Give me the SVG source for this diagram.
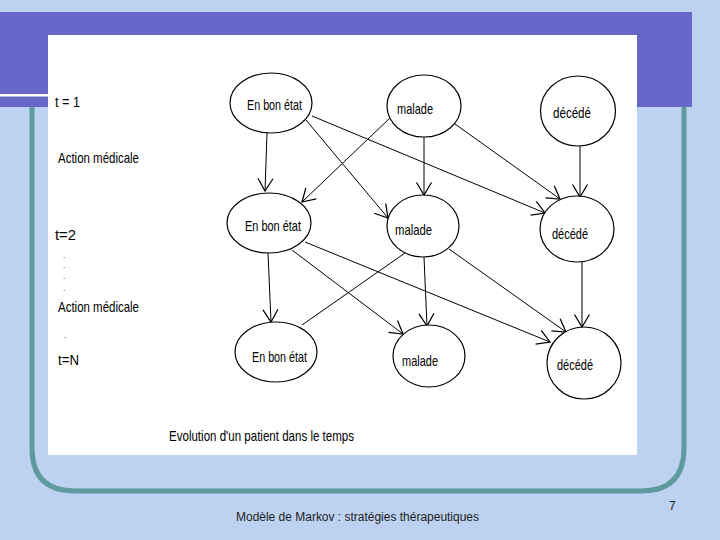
<svg xmlns="http://www.w3.org/2000/svg" width="720" height="540" viewBox="0 0 720 540">
<defs>
<marker id="ah" markerUnits="userSpaceOnUse" markerWidth="20" markerHeight="20" refX="0" refY="0" viewBox="-12 -8 14 16" orient="auto">
<path d="M-10,-6 L0,0 L-10,6" fill="none" stroke="#000" stroke-width="1"/>
</marker>
</defs>
<style>
.lbl{font-family:"Liberation Sans",Arial,sans-serif;font-size:15px;fill:#000}
.dot{font-family:"Liberation Sans",Arial,sans-serif;font-size:8px;fill:#000}
.nd ellipse{fill:#fff;stroke:#000;stroke-width:1.2}
.nd text{font-family:"Liberation Sans",Arial,sans-serif;font-size:15px;fill:#000}
#edges line{stroke:#000;stroke-width:1;fill:none}
#edges line.a{marker-end:url(#ah)}
.foot{font-family:"Liberation Sans",Arial,sans-serif;font-size:12px;fill:#222}
</style>
<rect x="0" y="0" width="720" height="540" fill="#bdd2f0"/>
<rect x="0" y="12" width="692" height="95" fill="#6767c9"/>
<rect x="0" y="94" width="48" height="2.5" fill="#ffffff"/>
<path d="M32,107 L32,448 Q32,491 75,491 L641,491 Q684,491 684,448 L684,107" fill="none" stroke="#5f9a9e" stroke-width="5"/>
<rect x="48" y="35" width="589" height="420" fill="#ffffff"/>

<text class="lbl" x="55" y="107" textLength="25" lengthAdjust="spacingAndGlyphs">t = 1</text>
<text class="lbl" x="58" y="163" textLength="81" lengthAdjust="spacingAndGlyphs">Action médicale</text>
<text class="lbl" x="55" y="240" textLength="21" lengthAdjust="spacingAndGlyphs">t=2</text>
<text class="dot" x="63" y="258">.</text>
<text class="dot" x="63" y="268">.</text>
<text class="dot" x="63" y="279">.</text>
<text class="dot" x="63" y="291">.</text>
<text class="lbl" x="58" y="312" textLength="81" lengthAdjust="spacingAndGlyphs">Action médicale</text>
<text class="dot" x="64" y="338">.</text>
<text class="lbl" x="58" y="365" textLength="21" lengthAdjust="spacingAndGlyphs">t=N</text>
<text class="lbl" x="169" y="441" textLength="185" lengthAdjust="spacingAndGlyphs">Evolution d'un patient dans le temps</text>

<g id="edges">
<line class="a" x1="267" y1="133" x2="265" y2="191"/>
<line class="a" x1="306" y1="120" x2="388" y2="218"/>
<line class="a" x1="312" y1="116" x2="545" y2="213"/>
<line class="a" x1="391" y1="117" x2="302" y2="202"/>
<line class="a" x1="424" y1="137" x2="424" y2="195"/>
<line class="a" x1="455" y1="124" x2="560" y2="199"/>
<line class="a" x1="580" y1="146" x2="580" y2="197"/>
<line class="a" x1="268" y1="253" x2="271" y2="322"/>
<line class="a" x1="292" y1="250" x2="403" y2="334"/>
<line class="a" x1="305" y1="242" x2="550" y2="342"/>
<line x1="405" y1="253" x2="302" y2="325"/>
<line class="a" x1="424" y1="257" x2="427" y2="326"/>
<line class="a" x1="449" y1="249" x2="566" y2="332"/>
<line class="a" x1="582" y1="262" x2="582" y2="327"/>
</g>

<g id="n-ebe1" class="nd"><ellipse cx="271" cy="103" rx="41" ry="30"/><text x="247" y="110" textLength="55" lengthAdjust="spacingAndGlyphs">En bon état</text></g>
<g id="n-mal1" class="nd"><ellipse cx="424" cy="106" rx="37" ry="31"/><text x="397" y="114" textLength="36" lengthAdjust="spacingAndGlyphs">malade</text></g>
<g id="n-dec1" class="nd"><ellipse cx="578" cy="111" rx="37.5" ry="35"/><text x="553" y="118" textLength="38" lengthAdjust="spacingAndGlyphs">décédé</text></g>
<g id="n-ebe2" class="nd"><ellipse cx="269" cy="223" rx="42" ry="30"/><text x="245" y="231" textLength="56" lengthAdjust="spacingAndGlyphs">En bon état</text></g>
<g id="n-mal2" class="nd"><ellipse cx="423" cy="226" rx="36" ry="31"/><text x="395" y="235" textLength="37" lengthAdjust="spacingAndGlyphs">malade</text></g>
<g id="n-dec2" class="nd"><ellipse cx="577" cy="229" rx="37" ry="33"/><text x="552" y="239" textLength="36" lengthAdjust="spacingAndGlyphs">décédé</text></g>
<g id="n-ebe3" class="nd"><ellipse cx="276" cy="352" rx="41" ry="30"/><text x="252" y="362" textLength="55" lengthAdjust="spacingAndGlyphs">En bon état</text></g>
<g id="n-mal3" class="nd"><ellipse cx="429" cy="356" rx="36" ry="31"/><text x="402" y="366" textLength="36" lengthAdjust="spacingAndGlyphs">malade</text></g>
<g id="n-dec3" class="nd"><ellipse cx="584" cy="363" rx="37" ry="36"/><text x="557" y="370" textLength="36" lengthAdjust="spacingAndGlyphs">décédé</text></g>

<text class="foot" x="236" y="521" textLength="243" lengthAdjust="spacingAndGlyphs">Modèle de Markov : stratégies thérapeutiques</text>
<text class="foot" x="669" y="510">7</text>
</svg>
